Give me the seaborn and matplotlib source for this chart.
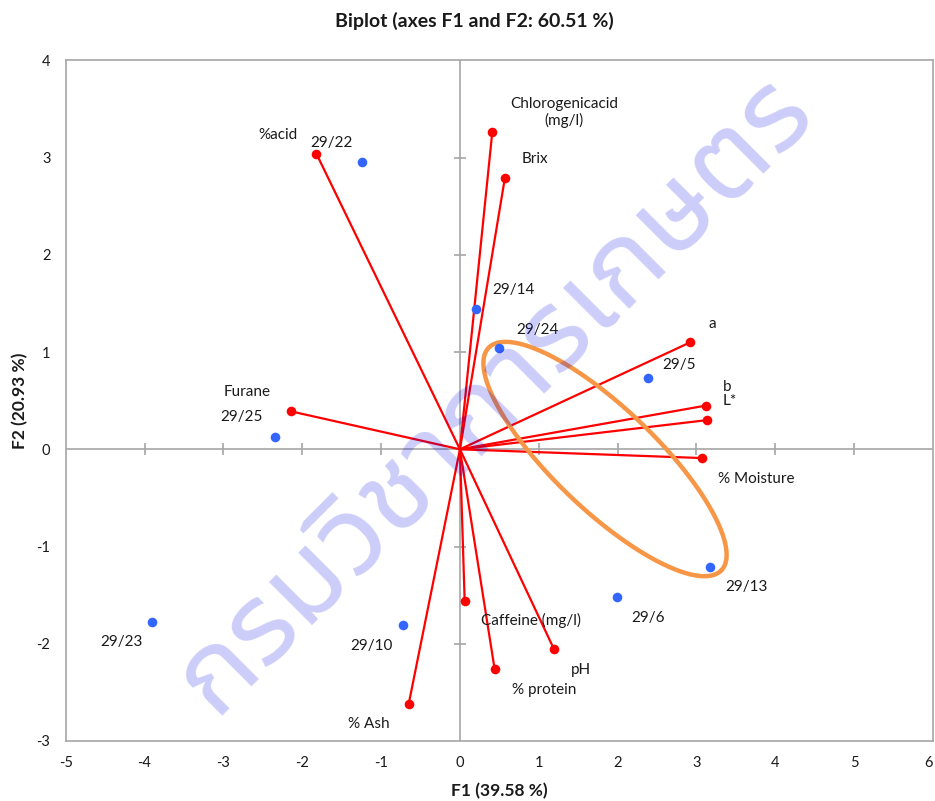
import numpy as np
import pandas as pd
import matplotlib
matplotlib.use("Agg")
import matplotlib.pyplot as plt
import seaborn as sns
from matplotlib import font_manager
from matplotlib.ft2font import FT2Font

# ---------------- data ----------------
var_names = ["%acid", "Chlorogenicacid\n(mg/l)", "Brix", "a", "b", "L*", "% Moisture",
             "Furane", "Caffeine (mg/l)", "pH", "% protein", "% Ash"]
var_f1 = [-1.82, 0.41, 0.57, 2.92, 3.12, 3.13, 3.07, -2.14, 0.06, 1.19, 0.44, -0.65]
var_f2 = [3.04, 3.26, 2.79, 1.10, 0.45, 0.30, -0.09, 0.39, -1.56, -2.05, -2.26, -2.62]

obs_names = ["29/22", "29/14", "29/24", "29/5", "29/25", "29/13", "29/6", "29/10", "29/23"]
obs_f1 = [-1.24, 0.21, 0.50, 2.38, -2.35, 3.17, 1.99, -0.72, -3.90]
obs_f2 = [2.96, 1.44, 1.04, 0.73, 0.13, -1.21, -1.52, -1.81, -1.78]

x_ticks = [-5, -4, -3, -2, -1, 0, 1, 2, 3, 4, 5, 6]
y_ticks = [-3, -2, -1, 0, 1, 2, 3, 4]

title = "Biplot (axes F1 and F2: 60.51 %)"
xlabel = "F1 (39.58 %)"
ylabel = "F2 (20.93 %)"
watermark = "กรมวิชาการเกษตร"

# ellipse (highlight) : centre in data units, semi-axes in pixels, angle in degrees
ell_center = (1.84, -0.10)
ell_semi_px = (161, 51)
ell_angle = -43.7

# label offsets (pixels) for variables and observations
var_offsets = [(-38, 19), (72, 20), (30, 19), (22, 18), (21, 19), (23, 19), (54, -21),
               (-44, 19), (66, -19), (27, -21), (50, -21), (-40, -20)]
obs_offsets = [(-31, 19), (37, 19), (38, 18), (31, 13), (-33, 20), (37, -20), (31, -21),
               (-32, -21), (-31, -20)]

# ---------------- fonts ----------------
sns.set_theme(style="white")
plt.rcParams['font.family'] = ['Lato', 'DejaVu Sans']
plt.rcParams['axes.unicode_minus'] = False


def thai_fonts():
    out = []
    for f in font_manager.fontManager.ttflist:
        try:
            ft = FT2Font(f.fname)
            if ft.get_char_index(ord("ก")):
                out.append(f.name)
        except Exception:
            pass
    return out


cands = thai_fonts()
thai_font = None
for pref in ["Noto Sans Thai UI", "Noto Sans Thai", "Kanit", "Prompt", "Sarabun",
             "Tlwg Typist", "Sawasdee", "Umpush", "Loma", "Garuda"]:
    hits = [c for c in cands if c == pref or (c.startswith(pref) and "Looped" not in c)]
    if hits:
        thai_font = hits[0]
        break
if thai_font is None and cands:
    thai_font = cands[0]

# ---------------- figure ----------------
W, H, DPI = 935, 801, 100
fig = plt.figure(figsize=(W / DPI, H / DPI), dpi=DPI)
fig.patch.set_facecolor("white")
ax = fig.add_axes([65.7 / W, 60 / H, 867.3 / W, 680.6 / H])

gray = "#a6a6a6"
txt = "#1a1a1a"
red = "#ff0000"
blue = "#3366ff"

ax.set_xlim(x_ticks[0], x_ticks[-1])
ax.set_ylim(y_ticks[0], y_ticks[-1])
ax.set_xticks(x_ticks)
ax.set_yticks(y_ticks)
ax.tick_params(length=0, pad=11, labelsize=10.5, labelcolor=txt)
ax.get_xticklabels()[-1].set_horizontalalignment("right")
for s in ax.spines.values():
    s.set_color(gray)
    s.set_linewidth(1.2)

# zero lines with cross ticks
ax.axhline(0, color=gray, lw=1.2, zorder=1)
ax.axvline(0, color=gray, lw=1.2, zorder=1)
xt_in = [t for t in x_ticks if t not in (0, x_ticks[0], x_ticks[-1])]
yt_in = [t for t in y_ticks if t not in (0, y_ticks[0], y_ticks[-1])]
ax.plot(xt_in, [0] * len(xt_in), ls="none", marker="|", ms=8, mew=1.2, color=gray, zorder=1)
ax.plot([0] * len(yt_in), yt_in, ls="none", marker="_", ms=8, mew=1.2, color=gray, zorder=1)

# vectors
vec = pd.DataFrame({"name": var_names, "F1": var_f1, "F2": var_f2})
seg = pd.concat([
    pd.DataFrame({"name": var_names, "F1": 0.0, "F2": 0.0, "k": 0}),
    vec.assign(k=1)
]).sort_values(["name", "k"])
sns.lineplot(data=seg, x="F1", y="F2", units="name", estimator=None, sort=False,
             color=red, lw=1.6, ax=ax, zorder=3)
sns.scatterplot(data=vec, x="F1", y="F2", color=red, s=48, linewidth=0, ax=ax, zorder=4)

obs = pd.DataFrame({"name": obs_names, "F1": obs_f1, "F2": obs_f2})
sns.scatterplot(data=obs, x="F1", y="F2", color=blue, s=48, linewidth=0, ax=ax, zorder=4)

for n, x, y, off in zip(var_names, var_f1, var_f2, var_offsets):
    ax.annotate(n, (x, y), xytext=off, textcoords="offset pixels", ha="center",
                va="center", fontsize=11, color=txt, zorder=5, linespacing=1.2)
for n, x, y, off in zip(obs_names, obs_f1, obs_f2, obs_offsets):
    ax.annotate(n, (x, y), xytext=off, textcoords="offset pixels", ha="center",
                va="center", fontsize=11, color=txt, zorder=5)

ax.set_xlabel("")
ax.set_ylabel("")
ax.xaxis.set_label_coords(0.5, -0.073)
ax.yaxis.set_label_coords(-0.0527, 0.5)
ax.set_xlabel(xlabel, fontsize=12.5, fontweight="bold", color=txt, va="center")
ax.set_ylabel(ylabel, fontsize=12.5, fontweight="bold", color=txt, va="center")

# highlight ellipse (pixel-shaped, placed in data coords)
fig.canvas.draw()
p0 = ax.transData.transform((0, 0))
p1 = ax.transData.transform((1, 1))
sx, sy = p1[0] - p0[0], p1[1] - p0[1]
t = np.linspace(0, 2 * np.pi, 400)
a, b = ell_semi_px
phi = np.deg2rad(ell_angle)
u, v = a * np.cos(t), b * np.sin(t)
ex = ell_center[0] + (u * np.cos(phi) - v * np.sin(phi)) / sx
ey = ell_center[1] + (u * np.sin(phi) + v * np.cos(phi)) / sy
ax.plot(ex, ey, color="#f79646", lw=3.2, zorder=3.5, solid_capstyle="round")

# title
fig.text(474 / W, 1 - 21 / H, title, ha="center", va="center", fontsize=14,
         fontweight="bold", color=txt)

# watermark overlay
wm_family = [thai_font, 'DejaVu Sans'] if thai_font else ['DejaVu Sans']
fig.text(492 / W, 1 - 392 / H, watermark, ha="center", va="center", rotation=45,
         rotation_mode="anchor", fontsize=84, fontweight="bold", color="#0000e6",
         alpha=0.2, family=wm_family, zorder=10)

fig.savefig("out.png", dpi=DPI, facecolor="white")
